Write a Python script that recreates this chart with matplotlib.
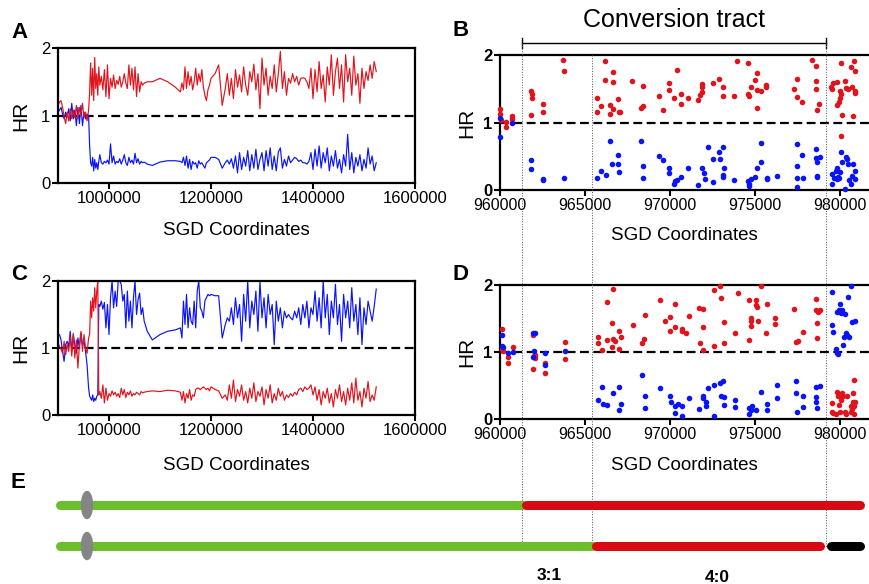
import numpy as np
import matplotlib
matplotlib.use("Agg")
import matplotlib.pyplot as plt
from matplotlib.patches import Ellipse

plt.rcParams["font.family"] = ["Liberation Sans", "DejaVu Sans"]

# ── genome-wide HR profiles (panels A, C), positions in kb ───────────────────
pos_kb = [
    900, 903, 906, 909, 912, 915, 918, 921, 924, 927, 930, 933, 936, 939, 942,
    945, 948, 951, 954, 957, 960,
    962, 964, 966, 968, 970, 972, 974, 976, 978, 980, 982, 985, 988, 991, 994,
    997, 1000, 1003, 1006, 1009, 1012, 1015, 1018, 1021, 1024, 1027, 1030, 1033,
    1036, 1039, 1042, 1045, 1048, 1051, 1054, 1057, 1060, 1063, 1066, 1069,
    1075, 1085, 1100, 1115, 1130, 1140,
    1143, 1146, 1149, 1152, 1155, 1158, 1161, 1164, 1167, 1170, 1173, 1176,
    1179, 1182, 1185, 1188, 1191, 1194, 1197, 1200,
    1208, 1215, 1222,
    1228, 1232, 1236, 1240, 1244, 1248, 1252, 1256, 1260, 1264, 1268, 1272,
    1276, 1280, 1284, 1288, 1292, 1296, 1300, 1304, 1308, 1312, 1316, 1320,
    1324, 1328, 1332, 1336, 1340, 1344, 1348, 1352, 1356, 1360, 1364, 1368,
    1372, 1376, 1380, 1384, 1388, 1392, 1396, 1400, 1404, 1408, 1412, 1416,
    1420, 1424, 1428, 1432, 1436, 1440, 1444, 1448, 1452, 1456, 1460, 1464,
    1468, 1472, 1476, 1480, 1484, 1488, 1492, 1496, 1500, 1504, 1508, 1512,
    1516, 1520, 1524,
]

a_red = [
    1.15, 1.20, 1.22, 1.12, 0.98, 0.88, 1.05, 0.92, 1.10, 0.95, 1.08, 0.97,
    1.15, 0.95, 1.12, 1.00, 1.18, 0.98, 1.05, 0.92, 1.08,
    1.35, 1.78, 1.30, 1.70, 1.22, 1.86, 1.40, 1.62, 1.30, 1.72, 1.45, 1.58,
    1.38, 1.68, 1.28, 1.75, 1.25, 1.55, 1.42, 1.60, 1.40, 1.52, 1.46, 1.58,
    1.42, 1.50, 1.62, 1.48, 1.40, 1.75, 1.45, 1.70, 1.38, 1.72, 1.28, 1.62,
    1.35, 1.50, 1.45, 1.48,
    1.50, 1.50, 1.55, 1.50, 1.42, 1.35,
    1.48, 1.38, 1.72, 1.40, 1.65, 1.45, 1.58, 1.38, 1.50, 1.70, 1.45, 1.62,
    1.50, 1.68, 1.42, 1.30, 1.22, 1.38, 1.45, 1.55,
    1.62, 1.75, 1.15,
    1.40, 1.62, 1.30, 1.55, 1.25, 1.68, 1.42, 1.60, 1.35, 1.72,
    1.45, 1.30, 1.65, 1.50, 1.76, 1.38, 1.62, 1.10, 1.85, 1.45,
    1.70, 1.30, 1.58, 1.40, 1.75, 1.35, 1.62, 1.95, 1.40, 1.65,
    1.30, 1.55, 1.48, 1.62, 1.50, 1.58, 1.45, 1.55, 1.56, 1.55,
    1.50, 1.40, 1.70, 1.25, 1.68, 1.35, 1.80, 1.40, 1.60, 1.20,
    1.72, 1.45, 1.90, 1.30, 1.65, 1.85, 1.40, 1.75, 1.20, 1.90,
    1.50, 1.70, 1.30, 1.88, 1.45, 1.62, 1.18, 1.70, 1.40, 1.65,
    1.52, 1.75, 1.55, 1.80, 1.65,
]
a_blue = [
    1.05, 1.08, 1.12, 1.02, 0.95, 1.05, 0.98, 1.10, 0.92, 1.18, 0.95, 1.08,
    0.85, 1.12, 0.88, 1.15, 0.85, 1.05, 0.95, 1.02, 1.00,
    0.55, 0.30, 0.25, 0.38, 0.18, 0.35, 0.22, 0.30, 0.20, 0.32, 0.42, 0.30,
    0.28, 0.32, 0.30, 0.34, 0.28, 0.58, 0.30, 0.40, 0.28, 0.32, 0.30, 0.36,
    0.28, 0.34, 0.42, 0.30, 0.26, 0.38, 0.30, 0.34, 0.28, 0.44, 0.30, 0.36,
    0.28, 0.32, 0.30, 0.31,
    0.28, 0.26, 0.31, 0.33, 0.33, 0.32,
    0.30, 0.38, 0.26, 0.40, 0.22, 0.35, 0.20, 0.32, 0.28, 0.30, 0.22, 0.33,
    0.28, 0.30, 0.26, 0.22, 0.30, 0.32, 0.34, 0.38,
    0.38, 0.35, 0.22,
    0.30, 0.34, 0.28, 0.36, 0.22, 0.40, 0.15, 0.45, 0.20, 0.38,
    0.25, 0.48, 0.18, 0.42, 0.22, 0.50, 0.20, 0.35, 0.45, 0.18,
    0.48, 0.25, 0.52, 0.20, 0.40, 0.18, 0.46, 0.52, 0.22, 0.35,
    0.25, 0.40, 0.30, 0.34, 0.38, 0.36, 0.32, 0.34, 0.30, 0.30,
    0.28, 0.32, 0.45, 0.20, 0.50, 0.25, 0.55, 0.22, 0.45, 0.30,
    0.52, 0.18, 0.40, 0.25, 0.48, 0.22, 0.35, 0.15, 0.42, 0.25,
    0.72, 0.20, 0.45, 0.15, 0.38, 0.25, 0.42, 0.18, 0.35, 0.22,
    0.52, 0.28, 0.40, 0.18, 0.30,
]
c_red = [
    1.08, 1.02, 0.98, 0.92, 1.10, 0.90, 1.05, 0.95, 1.18, 0.88, 1.22, 0.85,
    1.12, 0.70, 1.05, 1.25, 0.95, 1.20, 1.00, 0.92, 1.15,
    1.20, 1.70, 1.45, 1.75, 1.55, 1.90, 1.60, 1.85, 2.00, 0.30,
    0.35, 0.25, 0.45, 0.18, 0.40, 0.22, 0.32, 0.28, 0.36, 0.30,
    0.34, 0.28, 0.32, 0.26, 0.40, 0.30, 0.38, 0.26, 0.34, 0.30,
    0.36, 0.28, 0.32, 0.30, 0.34, 0.32, 0.30, 0.35, 0.33, 0.34,
    0.35, 0.36, 0.35, 0.37, 0.36, 0.34,
    0.22, 0.35, 0.18, 0.32, 0.25, 0.38, 0.22, 0.30, 0.28, 0.38, 0.40, 0.40,
    0.38, 0.40, 0.42, 0.40, 0.38, 0.40, 0.36, 0.42,
    0.38, 0.36, 0.25,
    0.30, 0.22, 0.45, 0.25, 0.52, 0.20, 0.38, 0.28, 0.45, 0.22,
    0.35, 0.18, 0.40, 0.25, 0.48, 0.20, 0.35, 0.28, 0.42, 0.15,
    0.38, 0.25, 0.45, 0.18, 0.32, 0.22, 0.40, 0.28, 0.35, 0.22,
    0.30, 0.26, 0.32, 0.28, 0.34, 0.30, 0.38, 0.40, 0.35, 0.42,
    0.38, 0.40, 0.45, 0.30, 0.42, 0.22, 0.38, 0.15, 0.35, 0.25,
    0.40, 0.18, 0.32, 0.12, 0.38, 0.25, 0.45, 0.20, 0.35, 0.15,
    0.40, 0.22, 0.48, 0.18, 0.55, 0.22, 0.35, 0.12, 0.40, 0.25,
    0.50, 0.20, 0.30, 0.22, 0.42,
]
c_blue = [
    1.18, 1.20, 1.12, 0.95, 0.80, 1.05, 1.10, 1.02, 1.25, 0.95, 1.20, 1.05,
    0.92, 1.15, 1.00, 1.22, 1.05, 1.10, 0.95, 0.75, 0.40,
    0.28, 0.25, 0.22, 0.30, 0.20, 0.25, 0.22, 0.28, 0.30, 1.65,
    1.62, 1.70, 1.58, 1.68, 1.30, 1.65, 1.20, 1.75, 2.00, 1.60,
    1.85, 1.62, 2.00, 2.00, 1.95, 1.70, 1.80, 1.30, 1.85, 1.40,
    1.70, 1.30, 1.75, 2.00, 1.50, 1.72, 1.82, 1.50, 1.60, 1.40,
    1.25, 1.12, 1.20, 1.25, 1.27, 1.30,
    1.15, 1.70, 1.35, 1.80, 1.30, 1.60, 1.40, 1.35, 1.70, 1.30, 1.85, 2.00,
    1.60, 1.55, 1.45, 1.70, 1.75, 1.80, 1.78, 1.80,
    1.78, 1.78, 1.15,
    1.35, 1.45, 1.40, 1.60, 1.35, 1.75, 1.45, 1.65, 1.10, 1.80,
    1.40, 2.00, 1.30, 1.70, 1.50, 1.85, 1.25, 2.00, 1.45, 1.75,
    1.30, 1.80, 1.50, 1.65, 1.05, 1.70, 1.40, 1.60, 1.30, 1.55,
    1.45, 1.50, 1.45, 1.42, 1.55, 1.45, 1.60, 1.35, 1.65, 1.45,
    1.70, 1.30, 1.60, 1.50, 1.85, 1.40, 1.75, 1.30, 2.00, 1.45,
    1.80, 1.20, 1.70, 1.45, 1.95, 1.35, 1.65, 1.10, 1.80, 1.45,
    1.70, 1.30, 1.90, 1.40, 1.65, 1.20, 1.75, 1.05, 1.60, 1.35,
    1.70, 1.55, 1.40, 1.62, 1.88,
]

# ── zoomed SNP calls (panel B) ───────────────────────────────────────────────
b_red_x = [
    960000, 960000, 960040, 960353, 960353, 960685, 960685,
    961804, 961862, 961882, 961804, 962506, 962506, 963724, 963765,
    965703, 965923, 965684, 966174, 966174, 966465, 966465, 966624, 966624,
    966665, 966921, 966977, 967059,
    967744, 968271, 968430, 968430, 969330, 969606, 969918, 969918, 970230,
    970389, 970624, 970624, 971054,
    971662, 971759, 971857, 971897, 971897, 972506, 972895, 973130, 973130,
    973759, 973954, 974603, 974603, 974660, 974741, 974992, 975094, 975094,
    975130, 975330, 975642, 975642,
    977309, 977442, 977442, 977739, 978363, 978583, 978583, 978583, 978619,
    978777,
    979447, 979503, 979601, 979795, 979836, 979954, 979995, 979995, 980051,
    980051, 980112, 980286, 980347, 980480, 980619, 980680, 980736, 980818,
    980874, 980874, 980874, 980051,
]
b_red_y = [
    1.20, 1.12, 1.03, 0.94, 1.01, 1.09, 1.05,
    1.47, 1.42, 1.37, 1.11, 1.28, 1.15, 1.93, 1.76,
    1.36, 1.25, 1.15, 1.91, 1.63, 1.12, 1.26, 1.20, 1.75,
    1.60, 1.35, 1.15, 1.16,
    1.62, 1.21, 1.24, 1.54, 1.40, 1.19, 1.59, 1.48, 1.36,
    1.78, 1.42, 1.27, 1.37,
    1.33, 1.41, 1.45, 1.57, 1.53, 1.58, 1.65, 1.53, 1.39,
    1.39, 1.91, 1.88, 1.42, 1.40, 1.53, 1.63, 1.48, 1.21,
    1.73, 1.46, 1.56, 1.52,
    1.49, 1.65, 1.38, 1.31, 1.92, 1.83, 1.61, 1.50, 1.18,
    1.28,
    1.53, 1.50, 1.58, 1.60, 1.26, 1.30, 1.36, 1.47, 1.88,
    1.42, 1.11, 1.62, 1.51, 1.50, 1.82, 1.53, 1.10, 1.91,
    1.76, 1.44, 1.46, 0.80,
]
b_blue_x = [
    960000, 960000, 960685,
    961804, 961804, 962506, 962547, 963765, 965724, 965923, 966215, 966465,
    966588, 966921, 966956, 966977, 968271, 968430, 968430, 969330, 969606,
    969918, 969918, 970230, 970291, 970429, 970624, 971054, 971662, 971857,
    971995, 972071, 972210, 972542, 972542, 972859, 972936, 973094, 973130,
    973130, 973171, 973759, 974603, 974639, 974660, 974741, 974992, 975130,
    975330, 975330, 975683, 975718, 976266, 977442, 977442, 977442, 977442,
    977739, 977795, 978562, 978583, 978619, 978619, 978660, 978818,
    979503, 979503, 979642, 979759, 979795, 979836, 979897, 979954, 979995,
    980030, 980092, 980286, 980347, 980424, 980480, 980542, 980619, 980680,
    980777, 980874, 980874,
]
b_blue_y = [
    1.06, 0.79, 1.00,
    0.44, 0.31, 0.16, 0.15, 0.18, 0.18, 0.28, 0.22, 0.73,
    0.38, 0.52, 0.38, 0.26, 0.73, 0.35, 0.18, 0.51, 0.44,
    0.32, 0.25, 0.09, 0.13, 0.15, 0.20, 0.33, 0.08, 0.33,
    0.25, 0.17, 0.64, 0.46, 0.12, 0.57, 0.46, 0.64, 0.22,
    0.20, 0.33, 0.15, 0.13, 0.06, 0.09, 0.16, 0.20, 0.33,
    0.41, 0.69, 0.18, 0.17, 0.21, 0.68, 0.36, 0.18, 0.04,
    0.52, 0.18, 0.61, 0.48, 0.42, 0.21, 0.19, 0.49,
    0.23, 0.09, 0.18, 0.28, 0.16, 0.33, 0.20, 0.18, 0.26,
    0.57, 0.41, 0.02, 0.49, 0.46, 0.38, 0.15, 0.09, 0.21,
    0.38, 0.28, 0.16,
]

# ── zoomed SNP calls (panel D) ───────────────────────────────────────────────
d_red_x = [
    960100, 960100, 960156, 960452, 960452, 960784,
    961923, 961923, 961999, 962061, 962061, 962648, 962648, 963822, 963822,
    965783, 965783, 966002, 966273, 966273, 966569, 966569, 966666, 966666,
    966763, 966998, 967019, 967100,
    967841, 968372, 968469, 968530, 969413, 969704, 970000, 970000, 970291,
    970291, 970685, 970725, 970940, 971119,
    971726, 971762, 971920, 971961, 971961, 972589, 972589, 972941, 972998,
    973197, 973197, 973825, 974019, 974667, 974667, 974764, 974764, 974764,
    975040, 975040, 975137, 975193, 975351, 975648, 975725, 976174, 976174,
    977312, 977409, 977511, 977802, 978589, 978589, 978625, 978625, 978727,
    978824,
    979508, 979508, 979570, 979764, 979846, 979902, 979963, 979999, 980040,
    980096, 980198, 980295, 980352, 980392, 980627, 980647, 980688, 980744,
    980785, 980826, 980826, 980841, 980882,
]
d_red_y = [
    1.35, 1.04, 1.02, 0.93, 0.83, 1.08,
    1.26, 0.75, 0.94, 0.91, 0.95, 0.84, 0.69, 1.15, 0.90,
    1.23, 1.13, 1.03, 1.18, 1.74, 1.43, 1.07, 1.94, 1.20,
    1.17, 1.31, 1.04, 1.23,
    1.40, 1.14, 1.19, 1.55, 1.77, 1.46, 1.52, 1.31, 1.37,
    1.72, 1.35, 1.32, 1.28, 1.53,
    1.66, 1.13, 1.64, 1.37, 1.03, 1.92, 1.09, 1.98, 1.80,
    1.45, 1.13, 1.28, 1.88, 1.78, 1.18, 1.51, 1.47, 1.39,
    1.77, 1.70, 1.67, 1.47, 1.98, 1.28, 1.72, 1.51, 1.42,
    1.64, 1.15, 1.16, 1.30, 1.79, 1.62, 1.44, 1.21, 1.59,
    1.63,
    0.24, 0.11, 0.09, 0.07, 0.40, 0.34, 0.21, 0.11, 0.29,
    0.39, 0.35, 0.10, 0.08, 0.35, 0.20, 0.10, 0.15, 0.39,
    0.26, 0.58, 0.19, 0.08, 0.25,
]
d_blue_x = [
    960100, 960100, 960156, 960452, 960784, 961959, 962061, 961999, 961923,
    962648, 962648, 963822,
    965783, 965982, 966038, 966273, 966626, 966998, 967019, 967100, 968372,
    968530, 968530, 969413, 970000, 970041, 970291, 970291, 970491, 970685,
    970725, 971119, 971726, 971920, 971961, 972119, 972119, 972252, 972589,
    972589, 972941, 972982, 973135, 973197, 973197, 973825, 973825, 974667,
    974667, 974744, 974805, 975040, 975351, 975725, 975725, 976276, 976276,
    977409, 977409, 977450, 977802, 977802, 978589, 978589, 978589, 978625,
    978824,
    979508, 979508, 979570, 979764, 979805, 979846, 979902, 979963, 979999,
    980040, 980096, 980096, 980157, 980234, 980295, 980352, 980392, 980489,
    980550, 980627, 980688, 980882,
]
d_blue_y = [
    1.25, 1.09, 1.07, 0.99, 1.00, 1.28, 1.29, 1.01, 0.93,
    0.99, 0.81, 1.02,
    0.29, 0.48, 0.23, 0.21, 0.39, 0.48, 0.14, 0.22, 0.66,
    0.34, 0.16, 0.46, 0.35, 0.25, 0.09, 0.19, 0.23, 0.04,
    0.19, 0.32, 0.15, 0.35, 0.31, 0.25, 0.19, 0.47, 0.51,
    0.05, 0.54, 0.34, 0.57, 0.33, 0.21, 0.29, 0.18, 0.16,
    0.07, 0.13, 0.19, 0.14, 0.41, 0.23, 0.13, 0.51, 0.31,
    0.57, 0.39, 0.10, 0.35, 0.18, 0.48, 0.33, 0.25, 0.16,
    0.49,
    1.89, 1.40, 1.30, 1.04, 0.99, 1.60, 0.97, 1.62, 1.72,
    1.58, 1.63, 1.60, 1.10, 1.23, 1.56, 1.28, 1.25, 1.82,
    1.23, 1.98, 1.45, 1.46,
]

# 3:1 tract start, 4:0 tract start, 4:0 tract end (SGD coordinates)
tract_bounds = [961294, 965411, 979175]

RED = "#e0141c"
BLUE = "#0a14f5"
GREEN = "#6dbe2d"
BAR_RED = "#d70a14"

W, H = 869, 584
fig = plt.figure(figsize=(W / 100, H / 100), dpi=100)


def px_rect(l, t, r, b):
    return [l / W, 1 - b / H, (r - l) / W, (b - t) / H]


def common(ax):
    ax.set_ylim(0, 2)
    ax.axhline(1, color="k", lw=1.6, ls=(0, (4, 2)), zorder=1)
    for s in ax.spines.values():
        s.set_linewidth(1.6)
    ax.tick_params(width=1.5, length=4, pad=1.5)


def wide_panel(ax, red, blue, xlab_y):
    x = np.array(pos_kb) * 1000
    ax.plot(x, blue, color=BLUE, lw=0.85)
    ax.plot(x, red, color=RED, lw=0.85)
    common(ax)
    ax.set_xlim(900000, 1600000)
    ax.set_xticks([1000000, 1200000, 1400000, 1600000])
    ax.ticklabel_format(axis="x", style="plain", useOffset=False)
    ax.set_yticks([0, 1, 2])
    ax.tick_params(labelsize=12)
    ax.set_xlabel("SGD Coordinates", fontsize=13.5)
    ax.xaxis.set_label_coords(0.5, xlab_y)
    ax.set_ylabel("HR", fontsize=15)
    ax.yaxis.set_label_coords(-0.078, 0.5)


def zoom_panel(ax, rx, ry, bx, by, xlab_y):
    ax.scatter(rx, ry, s=16, color=RED, lw=0, zorder=3, clip_on=False)
    ax.scatter(bx, by, s=16, color=BLUE, lw=0, zorder=3, clip_on=False)
    common(ax)
    ax.spines["right"].set_visible(False)
    ax.set_xlim(960000, 981705)
    ax.set_xticks([960000, 965000, 970000, 975000, 980000])
    ax.ticklabel_format(axis="x", style="plain", useOffset=False)
    ax.tick_params(axis="x", labelsize=11.5)
    ax.set_yticks([0, 1, 2], labels=["0", "1", "2"], fontsize=12,
                  fontweight="bold")
    ax.set_xlabel("SGD Coordinates", fontsize=13.5)
    ax.xaxis.set_label_coords(0.5, xlab_y)
    ax.set_ylabel("HR", fontsize=15)
    ax.yaxis.set_label_coords(-0.065, 0.5)


ax_a = fig.add_axes(px_rect(58, 48, 415, 183))
ax_b = fig.add_axes(px_rect(500, 55, 869, 190))
ax_c = fig.add_axes(px_rect(58, 281, 415, 415))
ax_d = fig.add_axes(px_rect(500, 285, 869, 419))

wide_panel(ax_a, a_red, a_blue, -0.29)
wide_panel(ax_c, c_red, c_blue, -0.31)
zoom_panel(ax_b, b_red_x, b_red_y, b_blue_x, b_blue_y, -0.275)
zoom_panel(ax_d, d_red_x, d_red_y, d_blue_x, d_blue_y, -0.285)

# ── overlay in pixel units: letters, tract bracket, guide lines, panel E ─────
ov = fig.add_axes([0, 0, 1, 1])
ov.set_xlim(0, W)
ov.set_ylim(H, 0)
ov.axis("off")
ov.patch.set_visible(False)

xb = [ax_b.transData.transform((c, 0))[0] for c in tract_bounds]

for lab, (lx, ly) in {"A": (11, 32), "B": (452, 30), "C": (11, 275),
                      "D": (452, 275), "E": (11, 483)}.items():
    ov.text(lx, ly, lab, fontsize=16, fontweight="bold", ha="left", va="center")

ov.text((xb[0] + xb[2]) / 2, 20, "Conversion tract", fontsize=18,
        ha="center", va="center")
ov.plot([xb[0], xb[2]], [43, 43], color="k", lw=1)
for x in (xb[0], xb[2]):
    ov.plot([x, x], [38, 48], color="k", lw=1)

ov.plot([xb[0], xb[0]], [43, 548], color="#555555", lw=0.7, ls=":")
ov.plot([xb[1], xb[1]], [55, 548], color="#555555", lw=0.7, ls=":")
ov.plot([xb[2], xb[2]], [43, 548], color="#555555", lw=0.7, ls=":")

bar_lw = 6.5
half = 4.5
y1, y2 = 505, 546
ov.plot([60, xb[0]], [y1, y1], color=GREEN, lw=bar_lw, solid_capstyle="round")
ov.plot([xb[0] + half, 864 - half], [y1, y1], color=BAR_RED, lw=bar_lw,
        solid_capstyle="round")
ov.plot([60, xb[1]], [y2, y2], color=GREEN, lw=bar_lw, solid_capstyle="round")
ov.plot([xb[1] + half, xb[2] - half - 1], [y2, y2], color=BAR_RED, lw=bar_lw,
        solid_capstyle="round")
ov.plot([xb[2] + half + 1, 864 - half], [y2, y2], color="k", lw=bar_lw,
        solid_capstyle="round")
for yc in (y1, y2):
    ov.add_patch(Ellipse((87, yc), 11, 27, color="#858585", zorder=5))

ov.text(549, 575, "3:1", fontsize=12.5, fontweight="bold", ha="center",
        va="center")
ov.text(717, 577, "4:0", fontsize=12.5, fontweight="bold", ha="center",
        va="center")

fig.savefig("out.png", dpi=100)
